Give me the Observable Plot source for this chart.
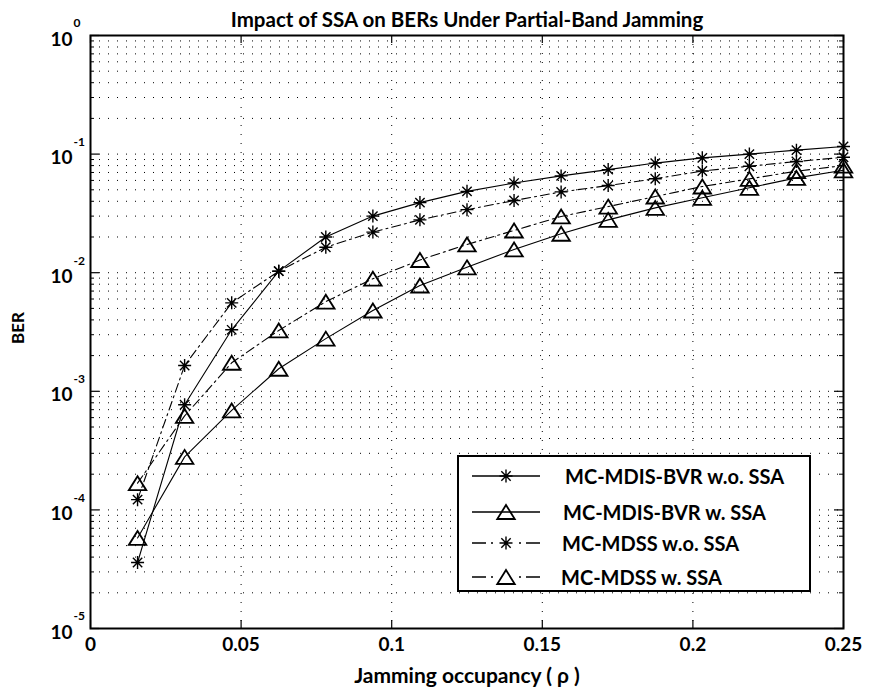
<!DOCTYPE html>
<html><head><meta charset="utf-8">
<script src="https://cdn.jsdelivr.net/npm/d3@7"></script>
<script src="https://cdn.jsdelivr.net/npm/@observablehq/plot@0.6"></script>
<style>
body{margin:0;background:#fff;font-family:Lato,"Open Sans",sans-serif;}
#wrap{position:relative;width:871px;height:696px;}
#legend{position:absolute;left:457px;top:455px;width:354px;height:137px;border:2px solid #000;background:#fff;box-sizing:border-box;}
#legend .row{position:absolute;left:0;width:100%;height:30px;}
#legend svg{position:absolute;left:11px;top:0;}
#legend span{position:absolute;top:0;line-height:30px;font-weight:bold;font-size:20px;color:#000;white-space:nowrap;}
</style></head><body><div id="wrap"></div>
<script>
// ---- data ----
const rho = [0.015625,0.03125,0.046875,0.0625,0.078125,0.09375,0.109375,0.125,0.140625,0.15625,0.171875,0.1875,0.203125,0.21875,0.234375,0.25];
const berMdisNoSsa = [3.6e-5,7.7e-4,3.3e-3,1.03e-2,2.0e-2,3.0e-2,3.9e-2,4.85e-2,5.7e-2,6.55e-2,7.4e-2,8.4e-2,9.3e-2,0.1,0.108,0.116];
const berMdisSsa   = [5.8e-5,2.8e-4,6.9e-4,1.55e-3,2.78e-3,4.8e-3,7.8e-3,1.11e-2,1.57e-2,2.13e-2,2.79e-2,3.52e-2,4.28e-2,5.2e-2,6.3e-2,7.3e-2];
const berMdssNoSsa = [1.22e-4,1.65e-3,5.57e-3,1.03e-2,1.64e-2,2.2e-2,2.79e-2,3.4e-2,4.06e-2,4.8e-2,5.43e-2,6.2e-2,7.2e-2,7.9e-2,8.66e-2,9.4e-2];
const berMdssSsa   = [1.68e-4,6.2e-4,1.74e-3,3.26e-3,5.7e-3,8.9e-3,1.28e-2,1.73e-2,2.27e-2,2.98e-2,3.61e-2,4.39e-2,5.33e-2,6.18e-2,7.18e-2,8.0e-2];
const seriesNames = ["MC-MDIS-BVR w.o. SSA","MC-MDIS-BVR w. SSA","MC-MDSS w.o. SSA","MC-MDSS w. SSA"];
const xTicks = [0,0.05,0.1,0.15,0.2,0.25];
const xGrid = [0.05,0.1,0.15,0.2];
const yExponents = [0,-1,-2,-3,-4,-5];
const minorMultipliers = [2,3,4,5,6,7,8,9];
const titleText = "Impact of SSA on BERs Under Partial-Band Jamming";
const xLabel = "Jamming occupancy ( \u03C1 )";
const yLabel = "BER";

// ---- styles ----
const star = {draw(ctx, size){const r=Math.sqrt(size/Math.PI);const d=r*0.72;
  ctx.moveTo(0,-r);ctx.lineTo(0,r);ctx.moveTo(-r,0);ctx.lineTo(r,0);
  ctx.moveTo(-d,-d);ctx.lineTo(d,d);ctx.moveTo(-d,d);ctx.lineTo(d,-d);}};
const tri = {draw(ctx, size){const r=Math.sqrt(size/Math.PI);const w=r*1.25,h=r;
  ctx.moveTo(0,-h);ctx.lineTo(w,h);ctx.lineTo(-w,h);ctx.closePath();}};
const dashDot = "9,4,2,4";
const seriesStyle = [
  {vals: berMdisNoSsa, dash: null, sym: star, r: 6.5},
  {vals: berMdisSsa, dash: null, sym: tri, r: 7},
  {vals: berMdssNoSsa, dash: dashDot, sym: star, r: 6.5},
  {vals: berMdssSsa, dash: dashDot, sym: tri, r: 7}
];

const W = 871, H = 696, mL = 90, mR = 28, mT = 35, mB = 68;
const pw = W - mL - mR, ph = H - mT - mB;

const majorY = yExponents.map(e => 10 ** e);
const minorY = [];
for (const e of yExponents.slice(1)) for (const m of minorMultipliers) minorY.push(m * 10 ** e);
const gridY = majorY.concat(minorY);

const marks = [
  Plot.ruleY(gridY, {stroke: "#000", strokeWidth: 1, strokeDasharray: "1,8"}),
  Plot.ruleX(xGrid, {stroke: "#000", strokeWidth: 1, strokeDasharray: "1,8"})
];
seriesStyle.forEach((s, i) => {
  const data = rho.map((x, j) => ({x, y: s.vals[j]}));
  marks.push(Plot.line(data, {x: "x", y: "y", stroke: "#000", strokeWidth: 1.1, strokeDasharray: s.dash}));
  marks.push(Plot.dot(data, {x: "x", y: "y", symbol: s.sym, r: s.r, stroke: "#000", fill: "none", strokeWidth: s.sym === tri ? 1.8 : 1.4}));
});
const bold = {fontWeight: "bold", fill: "#000"};
marks.push(
  Plot.tickY(majorY, {y: d => d, insetRight: pw - 9, stroke: "#000", strokeWidth: 1.2}),
  Plot.tickY(minorY, {y: d => d, insetRight: pw - 4, stroke: "#000", strokeWidth: 1}),
  Plot.tickY(majorY, {y: d => d, insetLeft: pw - 9, stroke: "#000", strokeWidth: 1.2}),
  Plot.tickY(minorY, {y: d => d, insetLeft: pw - 4, stroke: "#000", strokeWidth: 1}),
  Plot.tickX(xTicks, {x: d => d, insetTop: ph - 8, stroke: "#000", strokeWidth: 1.2}),
  Plot.tickX(xTicks, {x: d => d, insetBottom: ph - 8, stroke: "#000", strokeWidth: 1.2}),
  Plot.frame({stroke: "#000", strokeWidth: 2}),
  Plot.text(yExponents, {y: e => 10 ** e, text: () => "10", frameAnchor: "left", textAnchor: "end", dx: -18, dy: 4, fontSize: 19, ...bold}),
  Plot.text(yExponents, {y: e => 10 ** e, text: e => String(e), frameAnchor: "left", textAnchor: "start", dx: -17, dy: -12, fontSize: 12, ...bold}),
  Plot.text(xTicks, {x: d => d, text: d => String(d), frameAnchor: "bottom", dy: 22, fontSize: 19, ...bold}),
  Plot.text([titleText], {text: d => d, frameAnchor: "top", dy: -23, fontSize: 20.5, ...bold}),
  Plot.text([xLabel], {text: d => d, frameAnchor: "bottom", dy: 54, fontSize: 21, ...bold}),
  Plot.text([yLabel], {text: d => d, frameAnchor: "left", dx: -72, dy: 12, rotate: -90, fontSize: 17, ...bold})
);

const chart = Plot.plot({
  width: W, height: H, marginLeft: mL, marginRight: mR, marginTop: mT, marginBottom: mB,
  x: {domain: [0, 0.25], axis: null},
  y: {type: "log", domain: [1e-5, 1], axis: null},
  style: {fontFamily: "Lato, 'Open Sans', sans-serif", background: "#fff", overflow: "visible"},
  marks
});
const wrap = document.getElementById("wrap");
wrap.appendChild(chart);

// ---- legend ----
const legend = document.createElement("div");
legend.id = "legend";
const rowCenters = [19, 55, 86, 120];
const textLefts = [106, 104, 103, 102];
seriesNames.forEach((name, i) => {
  const s = seriesStyle[i];
  const row = document.createElement("div");
  row.className = "row";
  row.style.top = (rowCenters[i] - 15) + "px";
  const svg = d3.create("svg").attr("width", 72).attr("height", 30);
  if (s.dash) {
    svg.append("path").attr("d", "M2,15H16M56,15H70").attr("stroke", "#000").attr("stroke-width", 1.3);
    svg.append("path").attr("d", "M21,15H23M49,15H51").attr("stroke", "#000").attr("stroke-width", 1.3);
  } else {
    svg.append("path").attr("d", "M2,15H70").attr("stroke", "#000").attr("stroke-width", 1.3);
  }
  svg.append("path")
    .attr("transform", "translate(36,15)")
    .attr("d", d3.symbol(s.sym, s.r * s.r * Math.PI)())
    .attr("fill", "none").attr("stroke", "#000").attr("stroke-width", s.sym === tri ? 1.8 : 1.4);
  row.appendChild(svg.node());
  const span = document.createElement("span");
  span.style.left = textLefts[i] + "px";
  span.textContent = name;
  row.appendChild(span);
  legend.appendChild(row);
});
wrap.appendChild(legend);
</script>
</body></html>
